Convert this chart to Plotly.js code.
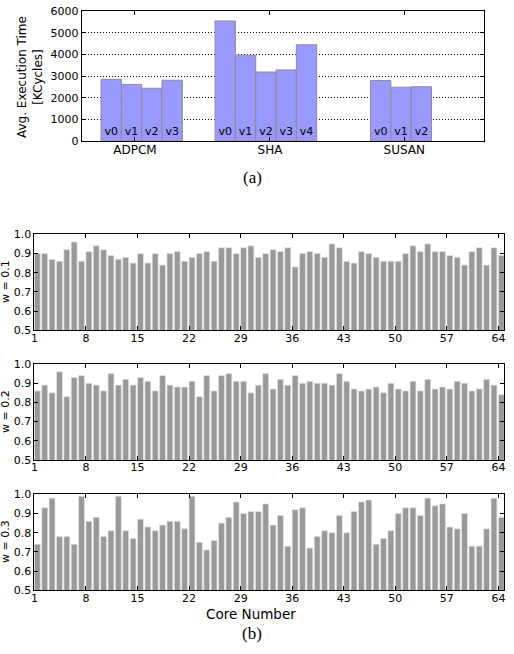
<!DOCTYPE html>
<html>
<head>
<meta charset="utf-8">
<script src="https://cdn.plot.ly/plotly-3.0.1.min.js"></script>
<style>html,body{margin:0;padding:0;background:#fff;}#chart{width:514px;height:654px;}</style>
</head>
<body>
<div id="chart"></div>
<script>
// ---- Data (a) ----
const groupNames = ['ADPCM', 'SHA', 'SUSAN'];
const adpcmTimes = [2850, 2620, 2440, 2810];
const shaTimes = [5550, 3970, 3190, 3290, 4450];
const susanTimes = [2800, 2490, 2510];
const yTicksA = [0, 1000, 2000, 3000, 4000, 5000, 6000];

// ---- Data (b) ----
const coreTicks = [1, 8, 15, 22, 29, 36, 43, 50, 57, 64];
const yTicksB = [0.5, 0.6, 0.7, 0.8, 0.9, 1.0];
const w01 = [0.90,0.90,0.87,0.86,0.92,0.96,0.86,0.91,0.94,0.92,
             0.89,0.87,0.88,0.85,0.90,0.85,0.90,0.84,0.90,0.91,
             0.86,0.88,0.90,0.91,0.86,0.93,0.93,0.90,0.93,0.94,
             0.88,0.90,0.92,0.91,0.93,0.83,0.90,0.91,0.90,0.88,
             0.95,0.93,0.86,0.85,0.91,0.90,0.88,0.86,0.86,0.86,
             0.90,0.94,0.91,0.95,0.91,0.91,0.89,0.88,0.84,0.91,
             0.93,0.84,0.93,0.89];
const w02 = [0.86,0.89,0.85,0.96,0.83,0.93,0.94,0.90,0.89,0.86,
             0.95,0.89,0.92,0.89,0.93,0.91,0.86,0.94,0.89,0.88,
             0.88,0.91,0.83,0.94,0.86,0.94,0.95,0.91,0.91,0.85,
             0.89,0.95,0.87,0.92,0.89,0.94,0.90,0.91,0.90,0.90,
             0.89,0.95,0.91,0.87,0.86,0.87,0.88,0.85,0.90,0.87,
             0.86,0.91,0.86,0.92,0.87,0.88,0.87,0.91,0.90,0.86,
             0.87,0.92,0.89,0.84];
const w03 = [0.74,0.93,0.98,0.78,0.78,0.74,0.99,0.86,0.88,0.78,
             0.81,0.99,0.81,0.77,0.87,0.83,0.81,0.84,0.86,0.86,
             0.82,0.99,0.75,0.71,0.76,0.85,0.88,0.96,0.90,0.91,
             0.91,0.95,0.84,0.89,0.73,0.92,0.93,0.72,0.78,0.81,
             0.80,0.89,0.80,0.91,0.96,0.97,0.74,0.77,0.81,0.90,
             0.93,0.93,0.89,0.98,0.94,0.95,0.83,0.82,0.90,0.73,
             0.73,0.82,0.98,0.88];

// ---- Layout helpers ----
const groupValues = [adpcmTimes, shaTimes, susanTimes];
const groupStart = [0.95, 6.56, 14.21];
const groupTickPos = [2.62, 9.26, 15.87];
const FONT = 'DejaVu Sans';

const ax = [], ay = [], at = [];
groupValues.forEach((vals, g) => {
  vals.forEach((v, j) => { ax.push(groupStart[g] + j); ay.push(v); at.push('v' + j); });
});

const cores = w01.map((_, i) => i + 1);

const traces = [{
  type: 'bar', x: ax, y: ay, text: at, width: 1, offset: 0,
  xaxis: 'x', yaxis: 'y',
  marker: {color: '#9999ff', line: {color: '#8a8a9a', width: 1}},
  textposition: 'inside', insidetextanchor: 'start', textangle: 0,
  constraintext: 'none',
  textfont: {family: FONT, size: 11, color: '#000'},
  hoverinfo: 'none', cliponaxis: true
}];
[[w01, '2'], [w02, '3'], [w03, '4']].forEach(([vals, n]) => {
  traces.push({
    type: 'bar', x: cores, y: vals, width: 0.8, offset: 0,
    xaxis: 'x' + n, yaxis: 'y' + n,
    marker: {color: '#999999', line: {color: '#e4e4e4', width: 0.7}},
    hoverinfo: 'none'
  });
});

function frame(extra) {
  return Object.assign({
    showline: true, linecolor: '#000', linewidth: 1, mirror: 'ticks',
    ticks: 'inside', ticklen: 4, tickcolor: '#000', tickwidth: 1,
    zeroline: false, showgrid: false, fixedrange: true,
    tickfont: {family: FONT, size: 11, color: '#000'}
  }, extra);
}

const H = 654, W = 514;
const py = p => 1 - p / H, px = p => p / W;

const bx = [px(34.4), px(504.3)];
const xB = (anchor) => frame({domain: bx, range: [1, 64.8], tickvals: coreTicks, ticktext: coreTicks.map(String), anchor: anchor, ticklabelstandoff: -3});
const yB = (anchor, top, bot) => frame({domain: [py(bot), py(top)], range: [0.5, 1.0], tickvals: yTicksB, ticktext: yTicksB.map(v => v.toFixed(1)), anchor: anchor});

const layout = {
  width: W, height: H, margin: {l: 0, r: 0, t: 0, b: 0},
  paper_bgcolor: '#fff', plot_bgcolor: '#fff', showlegend: false, bargap: 0,
  font: {family: FONT, color: '#000'},
  xaxis: frame({domain: [px(81.7), px(484)], range: [0, 19.79], tickvals: groupTickPos, ticktext: groupNames, anchor: 'y', ticklabelstandoff: -2, tickfont: {family: FONT, size: 12, color: '#000'}}),
  yaxis: frame({domain: [py(141), py(11.3)], range: [0, 6000], tickvals: yTicksA, ticktext: yTicksA.map(String), anchor: 'x',
                showgrid: true, gridcolor: '#000', gridwidth: 1, griddash: '1px,2px'}),
  xaxis2: xB('y2'), yaxis2: yB('x2', 234.3, 330.3),
  xaxis3: xB('y3'), yaxis3: yB('x3', 364, 460),
  xaxis4: xB('y4'), yaxis4: yB('x4', 494.3, 590.3),
  annotations: [
    {text: 'Avg. Execution Time<br>[KCycles]', xref: 'paper', yref: 'paper', x: px(30), y: py(77), textangle: -90,
     showarrow: false, xanchor: 'center', yanchor: 'middle', font: {family: FONT, size: 12, color: '#000'}},
    {text: '(a)', xref: 'paper', yref: 'paper', x: px(252), y: py(177), showarrow: false, xanchor: 'center', yanchor: 'middle',
     font: {family: 'Liberation Serif', size: 17, color: '#000'}},
    {text: '(b)', xref: 'paper', yref: 'paper', x: px(252), y: py(633), showarrow: false, xanchor: 'center', yanchor: 'middle',
     font: {family: 'Liberation Serif', size: 17, color: '#000'}},
    {text: 'Core Number', xref: 'paper', yref: 'paper', x: px(251), y: py(614), showarrow: false, xanchor: 'center', yanchor: 'middle',
     font: {family: FONT, size: 13.5, color: '#000'}},
    {text: 'w = 0.1', xref: 'paper', yref: 'paper', x: px(5), y: py(282), textangle: -90, showarrow: false, xanchor: 'center', yanchor: 'middle',
     font: {family: FONT, size: 11, color: '#000'}},
    {text: 'w = 0.2', xref: 'paper', yref: 'paper', x: px(5), y: py(412), textangle: -90, showarrow: false, xanchor: 'center', yanchor: 'middle',
     font: {family: FONT, size: 11, color: '#000'}},
    {text: 'w = 0.3', xref: 'paper', yref: 'paper', x: px(5), y: py(542), textangle: -90, showarrow: false, xanchor: 'center', yanchor: 'middle',
     font: {family: FONT, size: 11, color: '#000'}}
  ]
};

Plotly.newPlot('chart', traces, layout, {staticPlot: true, displayModeBar: false});
</script>
</body>
</html>
